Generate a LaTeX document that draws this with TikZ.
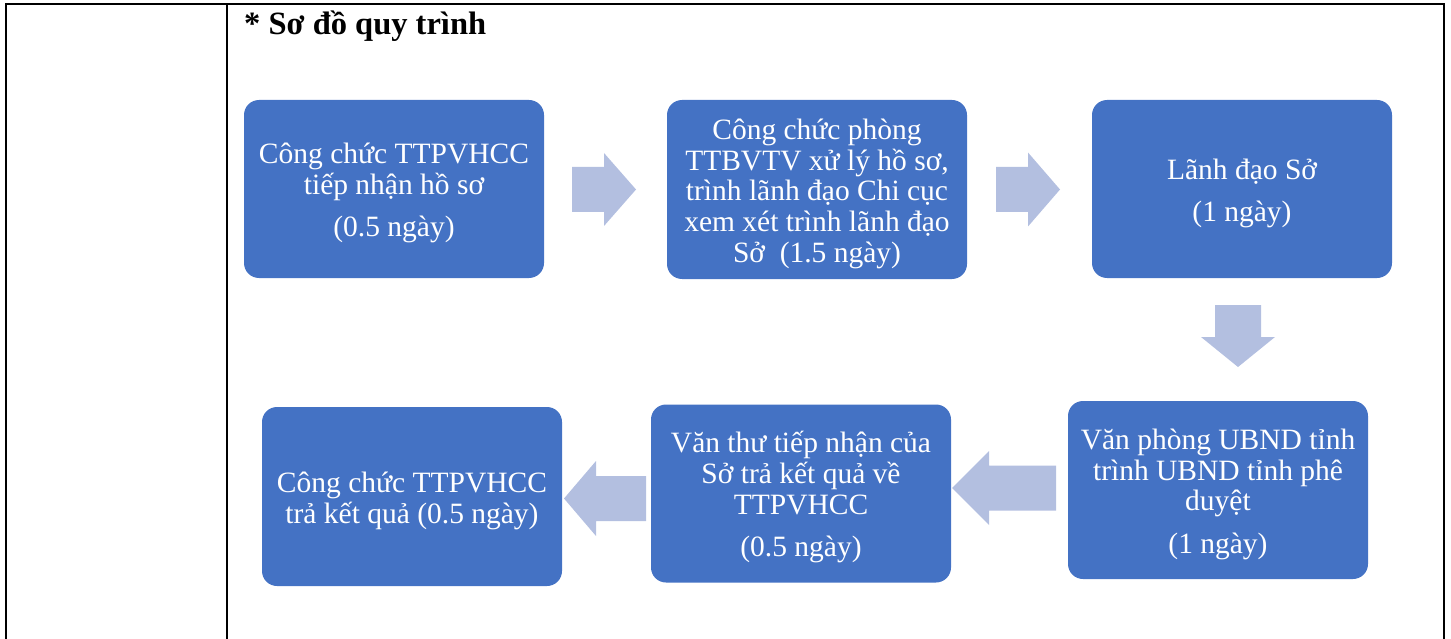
\documentclass[tikz,border=0pt]{standalone}
\usepackage{fontspec}
\setmainfont{Liberation Serif}
\definecolor{boxblue}{HTML}{4472C4}
\definecolor{arrowfill}{RGB}{179,191,224}
\newcommand\topgap{\rule{0pt}{29pt}}
\tikzset{
  x=1pt, y=-1pt,
  stepbox/.style={rectangle, rounded corners=15pt, fill=boxblue, text=white,
    minimum width=300pt, inner sep=0pt, align=center,
    font=\fontsize{29.5}{30.6}\selectfont},
  tableline/.style={line width=2pt, black},
  pics/blkarrow/.style args={#1/#2/#3/#4}{code={
    \fill[arrowfill] (0,0) -- (-#2,-#4) -- (-#2,-#3) -- (-#1,-#3)
      -- (-#1,#3) -- (-#2,#3) -- (-#2,#4) -- cycle;}}
}
\begin{document}
\begin{tikzpicture}
\useasboundingbox (0,0) rectangle (1451,639);
% table lines
\draw[tableline] (6,639) -- (6,4.5) -- (1443.5,4.5) -- (1443.5,639);
\draw[tableline] (227,4.5) -- (227,639);
% title
\node[anchor=base west, inner sep=0pt, font=\fontsize{32.5}{34}\selectfont\bfseries] (title) at (244,35) {* Sơ đồ quy trình};
% boxes
\node[stepbox, minimum height=178pt] (b1) at (394,189) {\topgap Công chức TTPVHCC\\tiếp nhận hồ sơ\\[12pt](0.5 ngày)};
\node[stepbox, minimum height=179pt] (b2) at (817,189.5) {\topgap Công chức phòng\\TTBVTV xử lý hồ sơ,\\trình lãnh đạo Chi cục\\xem xét trình lãnh đạo\\Sở \ (1.5 ngày)};
\node[stepbox, minimum height=178pt] (b3) at (1242,189) {\topgap Lãnh đạo Sở\\[12pt](1 ngày)};
\node[stepbox, minimum height=178pt] (b4) at (1218,490) {\topgap Văn phòng UBND tỉnh\\trình UBND tỉnh phê\\duyệt\\[12pt](1 ngày)};
\node[stepbox, minimum height=178pt] (b5) at (801,493.5) {\topgap Văn thư tiếp nhận của\\Sở trả kết quả về\\TTPVHCC\\[12pt](0.5 ngày)};
\node[stepbox, minimum height=179pt] (b6) at (412,496.5) {\topgap Công chức TTPVHCC\\trả kết quả (0.5 ngày)};
% block arrows
\pic at (636,189.5) {blkarrow={64/32/22.5/36.5}};
\pic at (1060,189.5) {blkarrow={64/32/22.5/37}};
\pic[rotate=-90] at (1238,367) {blkarrow={62/30/23/37}};
\pic[rotate=180] at (952,488) {blkarrow={104/37/22.5/37}};
\pic[rotate=180] at (564,498.5) {blkarrow={82/32/22.5/37.5}};
\end{tikzpicture}
\end{document}
